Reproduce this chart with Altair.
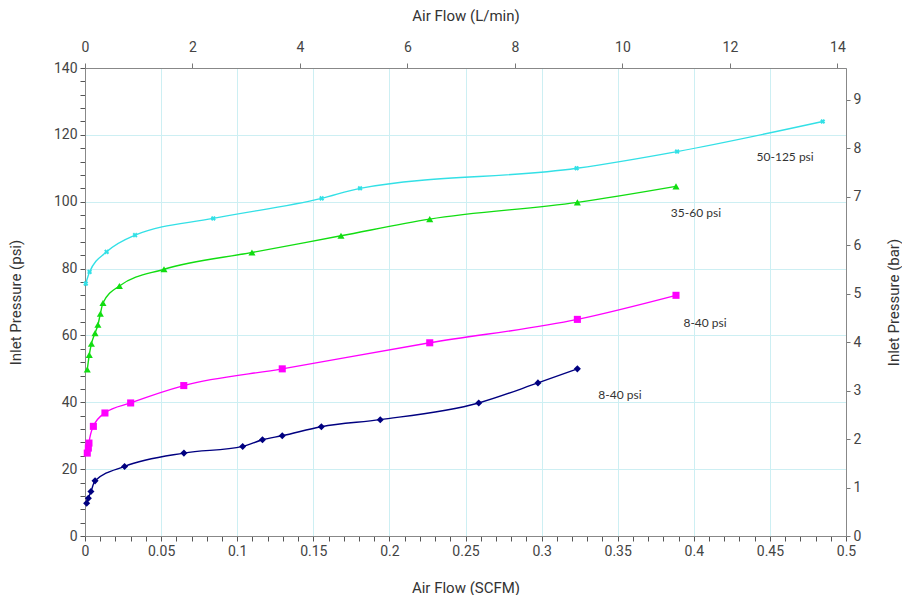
import altair as alt
import pandas as pd

# ---- data ----
series_names = ["8-40 psi (low)", "8-40 psi", "35-60 psi", "50-125 psi"]

navy_x = [0.0011, 0.0022, 0.0039, 0.0066, 0.026, 0.065, 0.1036, 0.1166, 0.1296, 0.1553, 0.194, 0.2587, 0.2976, 0.3235]
navy_y = [9.8, 11.3, 13.3, 16.5, 20.8, 24.8, 26.8, 28.8, 30.0, 32.7, 34.8, 39.8, 45.8, 50.0]

magenta_x = [0.0015, 0.0022, 0.0026, 0.0055, 0.0131, 0.030, 0.0649, 0.1296, 0.2265, 0.3235, 0.3883]
magenta_y = [24.8, 26.3, 27.8, 32.8, 36.8, 39.8, 45.0, 50.0, 57.8, 64.8, 72.0]

green_x = [0.0015, 0.0028, 0.0042, 0.0066, 0.0085, 0.0101, 0.0118, 0.0226, 0.0519, 0.1097, 0.1682, 0.2265, 0.3235, 0.3883]
green_y = [49.8, 54.2, 57.5, 60.7, 63.2, 66.5, 69.7, 74.8, 79.8, 84.8, 89.8, 94.8, 99.8, 104.6]

cyan_x = [0.0005, 0.003, 0.0142, 0.0329, 0.0843, 0.1555, 0.1807, 0.323, 0.389, 0.4847]
cyan_y = [75.5, 79.0, 85.0, 90.0, 95.0, 101.0, 104.0, 110.0, 115.0, 124.0]

label_text = ["50-125 psi", "35-60 psi", "8-40 psi", "8-40 psi"]
label_x = [0.460, 0.4014, 0.4074, 0.3515]
label_y = [113.4, 96.6, 63.7, 42.2]

colors = ["#000080", "#FF00FF", "#11DD11", "#33E0E6"]
shapes = ["diamond", "square", "triangle-up", "cross"]

bottom_ticks = [round(i * 0.01, 2) for i in range(51)]
left_ticks = list(range(0, 141, 4))
top_ticks = list(range(0, 15, 2))
right_ticks = list(range(0, 10))

SCFM_TO_LPM = 28.3168
PSI_PER_BAR = 14.5038

rows = []
for name, xs_, ys_ in zip(series_names, [navy_x, magenta_x, green_x, cyan_x], [navy_y, magenta_y, green_y, cyan_y]):
    for xv, yv in zip(xs_, ys_):
        rows.append({"series": name, "x": xv, "y": yv})
df = pd.DataFrame(rows)
labels_df = pd.DataFrame({"text": label_text, "x": label_x, "y": label_y})

FONT = "Roboto"
LABEL_COLOR = "#444444"
GRID = "#CDEFF3"

maj_x = "round(datum.value*100) % 5 === 0"
maj_y = "datum.value % 20 === 0"

x_axis = alt.Axis(
    orient="bottom", values=bottom_ticks, tickCount=500, title="Air Flow (SCFM)",
    labelExpr="round(datum.value*100) % 5 === 0 ? format(datum.value, '~g') : ''",
    grid=True, gridColor=GRID,
    gridOpacity={"condition": {"test": maj_x, "value": 1}, "value": 0},
    tickSize=5, tickColor="#555555", domainColor="#888888",
    labelPadding=3, titlePadding=22, labelOverlap=False, labelFlush=False,
)
y_axis = alt.Axis(
    orient="left", values=left_ticks, tickCount=500, title="Inlet Pressure (psi)",
    labelExpr="datum.value % 20 === 0 ? format(datum.value, 'd') : ''",
    grid=True, gridColor=GRID,
    gridOpacity={"condition": {"test": maj_y, "value": 1}, "value": 0},
    tickSize=5, tickColor="#555555", domainColor="#888888",
    labelPadding=3, titlePadding=30, labelOverlap=False,
)

xs = alt.X("x:Q", scale=alt.Scale(domain=[0, 0.5], nice=False), axis=x_axis)
ys = alt.Y("y:Q", scale=alt.Scale(domain=[0, 140], nice=False), axis=y_axis)
color = alt.Color("series:N", scale=alt.Scale(domain=series_names, range=colors), legend=None)

base = alt.Chart(df)

lines = base.mark_line(interpolate="monotone", strokeWidth=1.4).encode(
    x=xs, y=ys, color=color, detail="series:N"
)
pts = base.transform_filter("datum.series !== '50-125 psi'").mark_point(filled=True, size=50, opacity=1).encode(
    x=xs, y=ys, color=color,
    shape=alt.Shape("series:N", scale=alt.Scale(domain=series_names, range=shapes), legend=None),
)
cyan_pts = base.transform_filter("datum.series === '50-125 psi'").mark_point(
    shape="cross", angle=45, filled=True, size=26, opacity=1, color=colors[3]
).encode(x=xs, y=ys)

txt = alt.Chart(labels_df).mark_text(font="Lato", fontSize=12, color="#333333").encode(
    x=xs, y=ys, text="text:N"
)

main = alt.layer(lines, pts, cyan_pts, txt)

secondary = base.transform_calculate(
    lpm=f"datum.x * {SCFM_TO_LPM}", bar=f"datum.y / {PSI_PER_BAR}"
).mark_point(opacity=0).encode(
    x=alt.X("lpm:Q", scale=alt.Scale(domain=[0, 0.5 * SCFM_TO_LPM], nice=False),
            axis=alt.Axis(orient="top", values=top_ticks, tickCount=500, format="d",
                          title="Air Flow (L/min)", grid=False,
                          tickSize=5, tickColor="#777777", domainColor="#888888",
                          labelPadding=9, titlePadding=17, labelFlush=False)),
    y=alt.Y("bar:Q", scale=alt.Scale(domain=[0, 140 / PSI_PER_BAR], nice=False),
            axis=alt.Axis(orient="right", values=right_ticks, tickCount=500, format="d",
                          title="Inlet Pressure (bar)", grid=False,
                          titleAngle=270, titleBaseline="top",
                          tickSize=4, tickColor="#777777", domainColor="#888888",
                          labelPadding=3, titlePadding=26)),
)

chart = alt.layer(main, secondary).resolve_scale(x="independent", y="independent").properties(
    width=761, height=468, padding={"left": 0, "top": 0, "right": 0, "bottom": 0}
).configure_view(stroke="#888888", strokeWidth=1).configure_axis(
    labelFont=FONT, titleFont=FONT, labelFontSize=14, titleFontSize=15,
    labelColor=LABEL_COLOR, titleColor="#333333", titleFontWeight="normal",
)

chart.save("out.html", embed_options={"renderer": "svg", "actions": False})
